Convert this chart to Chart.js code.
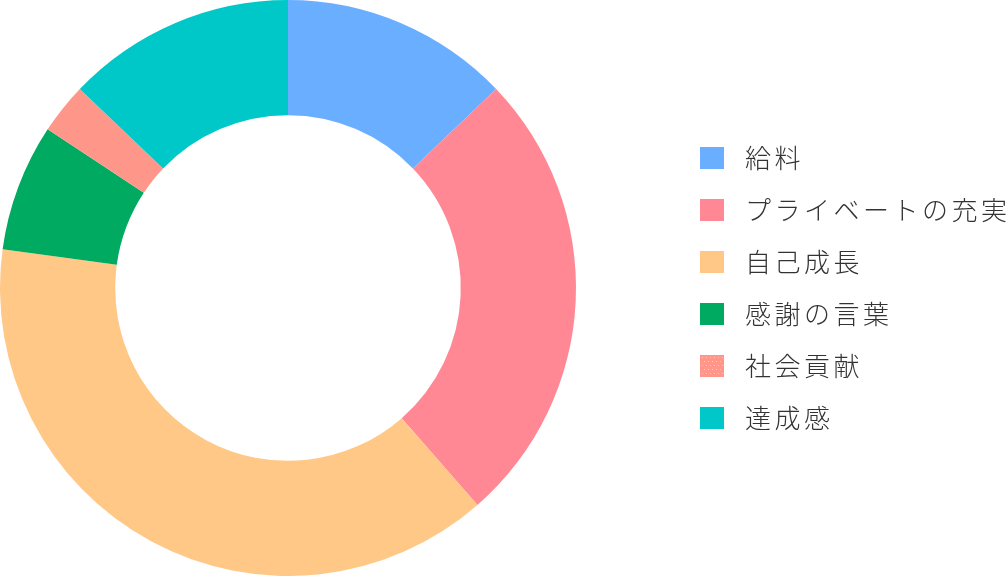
<!DOCTYPE html>
<html lang="ja">
<head>
<meta charset="utf-8">
<script src="https://cdn.jsdelivr.net/npm/chart.js@4.4.1/dist/chart.umd.min.js"></script>
<style>
  html, body { margin: 0; padding: 0; background: #fff; }
  #wrap { width: 1008px; height: 576px; }
</style>
</head>
<body>
<div id="wrap"><canvas id="chart"></canvas></div>
<script>
// データ
const labels = ['給料', 'プライベートの充実', '自己成長', '感謝の言葉', '社会貢献', '達成感'];
const values = [9, 18, 27, 5, 2, 9];
const colors = ['#6aaeff', '#ff8894', '#ffc887', '#00aa60', '#ff968a', '#00c8c8'];

// 凡例のボックス（社会貢献だけドット柄）
function makeBox(color, dotted) {
    const c = document.createElement('canvas');
    c.width = 24; c.height = 22;
    const g = c.getContext('2d');
    g.fillStyle = color;
    g.fillRect(0, 0, 24, 22);
    if (dotted) {
        g.fillStyle = 'rgba(255,220,150,0.8)';
        for (let y = 2; y < 22; y += 4) {
            for (let x = (y % 8 === 2 ? 2 : 4); x < 24; x += 4) g.fillRect(x, y, 1, 1);
        }
    }
    return c;
}
const boxes = colors.map((c, i) => makeBox(c, i === 4));

const LEGEND_X = 692;
const PIE_SIZE = 576;
const SPACING = '3.5px';

const layoutFix = {
    id: 'layoutFix',
    beforeLayout(chart) { chart.ctx.letterSpacing = SPACING; },
    afterLayout(chart) {
        chart.chartArea = { left: 0, top: 0, right: PIE_SIZE, bottom: PIE_SIZE, width: PIE_SIZE, height: PIE_SIZE };
        const lg = chart.legend;
        const pad = lg.options.labels.padding;
        lg.left = LEGEND_X - pad;
        lg.right = chart.width;
        lg.width = lg.right - lg.left;
    },
    beforeDraw(chart) { chart.ctx.letterSpacing = SPACING; }
};

const defaultLabels = Chart.overrides.doughnut.plugins.legend.labels.generateLabels;

new Chart(document.getElementById('chart'), {
    type: 'doughnut',
    data: {
        labels: labels,
        datasets: [{
            data: values,
            backgroundColor: colors,
            borderWidth: 0
        }]
    },
    options: {
        responsive: true,
        maintainAspectRatio: false,
        animation: false,
        cutout: '60%',
        layout: { padding: 0 },
        plugins: {
            tooltip: { enabled: false },
            legend: {
                position: 'right',
                align: 'center',
                labels: {
                    usePointStyle: true,
                    pointStyleWidth: 40,
                    padding: 26,
                    color: '#333',
                    font: { family: "'Noto Sans CJK JP', 'Noto Sans'", size: 26, weight: 300 },
                    generateLabels: chart => defaultLabels(chart).map((l, i) => ({ ...l, pointStyle: boxes[i] }))
                }
            }
        }
    },
    plugins: [layoutFix]
});
</script>
</body>
</html>
